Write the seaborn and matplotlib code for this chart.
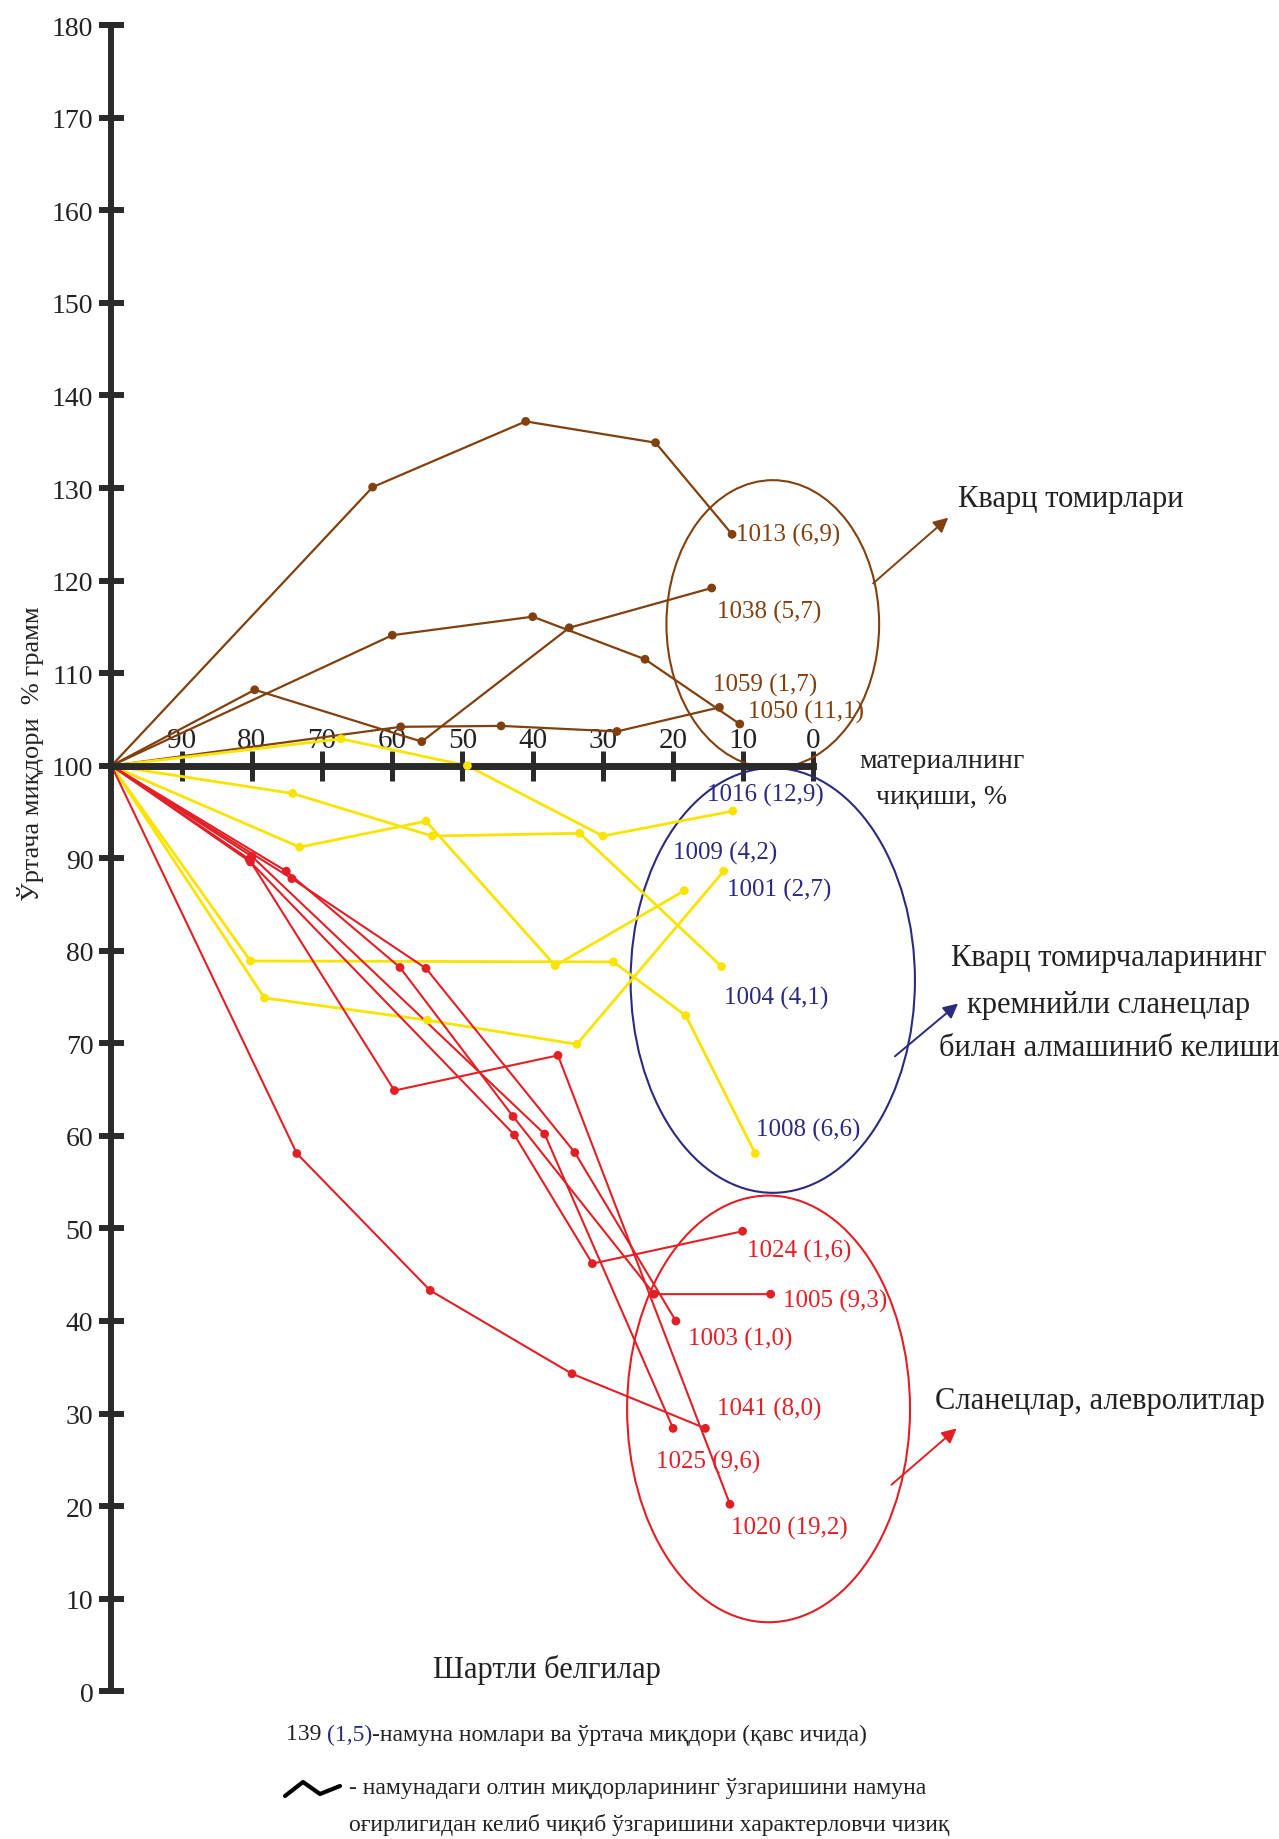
import numpy as np
import pandas as pd
import matplotlib

matplotlib.use('Agg')
import matplotlib.pyplot as plt
from matplotlib.patches import Ellipse
import seaborn as sns

# material output, % (x) and relative gold content, % (y) for every sample
# quartz veins
quartz_ids = ['1013', '1038', '1059', '1050']
quartz_means = ['6,9', '5,7', '1,7', '11,1']
quartz_x = [[100, 62.8, 41.0, 22.5, 11.6],
            [100, 79.6, 55.8, 34.8, 14.5],
            [100, 58.8, 44.5, 28.0, 13.4],
            [100, 60.0, 40.0, 24.0, 10.5]]
quartz_y = [[100, 130.1, 137.2, 134.9, 125.0],
            [100, 108.2, 102.6, 114.9, 119.2],
            [100, 104.2, 104.3, 103.7, 106.3],
            [100, 114.1, 116.1, 111.5, 104.5]]

# quartz veinlets alternating with siliceous shales
veinlet_ids = ['1016', '1009', '1001', '1004', '1008']
veinlet_means = ['12,9', '4,2', '2,7', '4,1', '6,6']
veinlet_x = [[100, 67.3, 49.3, 30.0, 11.5],
             [100, 78.2, 55.0, 33.7, 12.8],
             [100, 73.2, 55.2, 36.8, 18.4],
             [100, 74.2, 54.3, 33.3, 13.1],
             [100, 80.2, 28.5, 18.2, 8.3]]
veinlet_y = [[100, 102.9, 100.0, 92.4, 95.1],
             [100, 74.9, 72.5, 69.9, 88.6],
             [100, 91.2, 94.0, 78.4, 86.5],
             [100, 97.0, 92.4, 92.7, 78.3],
             [100, 78.9, 78.8, 73.0, 58.1]]

# shales, siltstones
shale_ids = ['1024', '1005', '1003', '1041', '1025', '1020']
shale_means = ['1,6', '9,3', '1,0', '8,0', '9,6', '19,2']
shale_x = [[100, 80.2, 42.6, 31.5, 10.1],
           [100, 75.1, 58.9, 42.8, 22.7, 6.1],
           [100, 74.3, 55.2, 34.0, 19.6],
           [100, 73.6, 54.6, 34.4, 15.4],
           [100, 80.0, 38.3, 20.0],
           [100, 80.4, 59.7, 36.4, 11.9]]
shale_y = [[100, 89.6, 60.1, 46.2, 49.7],
           [100, 88.6, 78.2, 62.1, 42.9, 42.9],
           [100, 87.8, 78.1, 58.2, 40.0],
           [100, 58.1, 43.3, 34.3, 28.4],
           [100, 90.2, 60.2, 28.4],
           [100, 89.9, 64.9, 68.7, 20.2]]

x_ticks = [90, 80, 70, 60, 50, 40, 30, 20, 10, 0]
y_ticks = list(range(0, 181, 10))

line_colors = {'quartz': '#82400e', 'veinlet': '#f9e400', 'shale': '#e31f26'}
label_colors = {'quartz': '#82400e', 'veinlet': '#2b2a7e', 'shale': '#e31f26'}
line_widths = {'quartz': 1.6, 'veinlet': 2.0, 'shale': 1.5}
axis_color = '#2a2a2a'
text_color = '#222222'

groups = [('quartz', quartz_ids, quartz_means, quartz_x, quartz_y),
          ('veinlet', veinlet_ids, veinlet_means, veinlet_x, veinlet_y),
          ('shale', shale_ids, shale_means, shale_x, shale_y)]

rows = []
for grp, ids, means, xs, ys in groups:
    for sid, xv, yv in zip(ids, xs, ys):
        for k, (a, b) in enumerate(zip(xv, yv)):
            rows.append({'group': grp, 'sample': sid, 'step': k, 'x': a, 'y': b})
df = pd.DataFrame(rows)

sns.set_style('white')
plt.rcParams['font.family'] = ['Liberation Serif', 'DejaVu Serif']

fig = plt.figure(figsize=(12.79, 18.40), dpi=100)
ax = fig.add_axes([0, 0, 1, 1])
ax.patch.set_alpha(0)

sns.lineplot(data=df, x='x', y='y', hue='group', size='group', units='sample',
             estimator=None, sort=False, palette=line_colors, sizes=line_widths,
             legend=False, ax=ax)
sns.scatterplot(data=df[df['step'] > 0], x='x', y='y', hue='group',
                palette=line_colors, s=40, linewidth=0, legend=False, ax=ax, zorder=3)

# sample labels: number (mean content)
label_offsets = {'1013': (4, 0), '1038': (5, -23), '1059': (-6, 23), '1050': (8, 13),
                 '1016': (-26, 17), '1009': (-51, 19), '1001': (43, 1),
                 '1004': (2, -31), '1008': (1, 24),
                 '1024': (4, -19), '1005': (12, -6), '1003': (12, -17),
                 '1041': (12, 20), '1025': (-17, -33), '1020': (1, -23)}
for grp, ids, means, xs, ys in groups:
    for sid, m, xv, yv in zip(ids, means, xs, ys):
        ax.annotate(f'{sid} ({m})', xy=(xv[-1], yv[-1]), xytext=label_offsets[sid],
                    textcoords='offset pixels', color=label_colors[grp], fontsize=18,
                    ha='left', va='center')

# group ellipses and arrows
ax.add_patch(Ellipse((5.8, 115.3), 30.3, 31.1, fill=False, ec=line_colors['quartz'], lw=1.5))
ax.add_patch(Ellipse((5.8, 76.8), 40.5, 45.9, fill=False, ec='#2b2a7e', lw=1.5))
ax.add_patch(Ellipse((6.4, 30.5), 40.3, 46.1, fill=False, ec=line_colors['shale'], lw=1.5))
arrow_kw = dict(arrowstyle='-|>', lw=1.4, mutation_scale=22, shrinkA=0, shrinkB=0)
ax.annotate('', xy=(-19.2, 126.8), xytext=(-8.5, 119.7),
            arrowprops=dict(color=line_colors['quartz'], **arrow_kw))
ax.annotate('', xy=(-20.6, 74.3), xytext=(-11.6, 68.6),
            arrowprops=dict(color='#2b2a7e', **arrow_kw))
ax.annotate('', xy=(-20.4, 28.4), xytext=(-11.1, 22.3),
            arrowprops=dict(color=line_colors['shale'], **arrow_kw))

# axes through the point (100, 100)
for side in ['top', 'right']:
    ax.spines[side].set_visible(False)
ax.spines['left'].set_position(('data', 100))
ax.spines['left'].set_bounds(0, 180)
ax.spines['left'].set_linewidth(4.3)
ax.spines['left'].set_color(axis_color)
ax.spines['bottom'].set_position(('data', 100))
ax.spines['bottom'].set_bounds(0, 100)
ax.spines['bottom'].set_linewidth(5)
ax.spines['bottom'].set_color(axis_color)
ax.set_xticks(x_ticks)
ax.set_xticklabels([str(t) for t in x_ticks])
ax.set_yticks(y_ticks)
ax.set_yticklabels([str(t) for t in y_ticks])
ax.tick_params(axis='y', left=True, direction='inout', length=18, width=4.3, color=axis_color,
               labelsize=20, pad=4, labelcolor=text_color)
ax.tick_params(axis='x', bottom=True, direction='inout', length=21, width=3.6, color=axis_color,
               labelsize=21, pad=-38, labelcolor=text_color)
ax.set_xlim(115.88, -66.31)
ax.set_ylim(-15.97, 182.84)
ax.set_xlabel('')
ax.set_ylabel('')


def px(x, y):
    return x / 1279, 1 - y / 1840


fig.text(*px(31, 754), 'Ўртача миқдори  % грамм', rotation=90, fontsize=19,
         ha='center', va='center', color=text_color)
fig.text(*px(942, 761), 'материалнинг', fontsize=20, ha='center', va='center', color=text_color)
fig.text(*px(942, 797), 'чиқиши, %', fontsize=20, ha='center', va='center', color=text_color)
fig.text(*px(958, 500), 'Кварц томирлари', fontsize=22, ha='left', va='center', color=text_color)
for yy, line in zip([959, 1005, 1049], ['Кварц томирчаларининг', 'кремнийли сланецлар',
                                         'билан алмашиниб келиши']):
    fig.text(*px(1109, yy), line, fontsize=22, ha='center', va='center', color=text_color)
fig.text(*px(935, 1401), 'Сланецлар, алевролитлар', fontsize=22, ha='left', va='center',
         color=text_color)

# legend
fig.text(*px(547, 1670), 'Шартли белгилар', fontsize=22, ha='center', va='center', color=text_color)
t1 = fig.text(*px(286, 1735), '139 ', fontsize=17, ha='left', va='center', color=text_color)
t2 = ax.annotate('(1,5)', xy=(1, 0.5), xycoords=t1, fontsize=17, ha='left', va='center',
                 color='#2b2a7e')
ax.annotate('-намуна номлари ва ўртача миқдори (қавс ичида)', xy=(1, 0.5), xycoords=t2,
            fontsize=17, ha='left', va='center', color=text_color)
zz_x = np.array([285, 303, 320, 340]) / 1279
zz_y = 1 - np.array([1797, 1783, 1795, 1787]) / 1840
ax.plot(zz_x, zz_y, color='black', lw=3, transform=fig.transFigure, clip_on=False)
fig.text(*px(349, 1789), '- намунадаги олтин миқдорларининг ўзгаришини намуна', fontsize=17,
         ha='left', va='center', color=text_color)
fig.text(*px(349, 1825), 'оғирлигидан келиб чиқиб ўзгаришини характерловчи чизиқ', fontsize=17,
         ha='left', va='center', color=text_color)

fig.savefig('out.png', dpi=100, facecolor='white')
